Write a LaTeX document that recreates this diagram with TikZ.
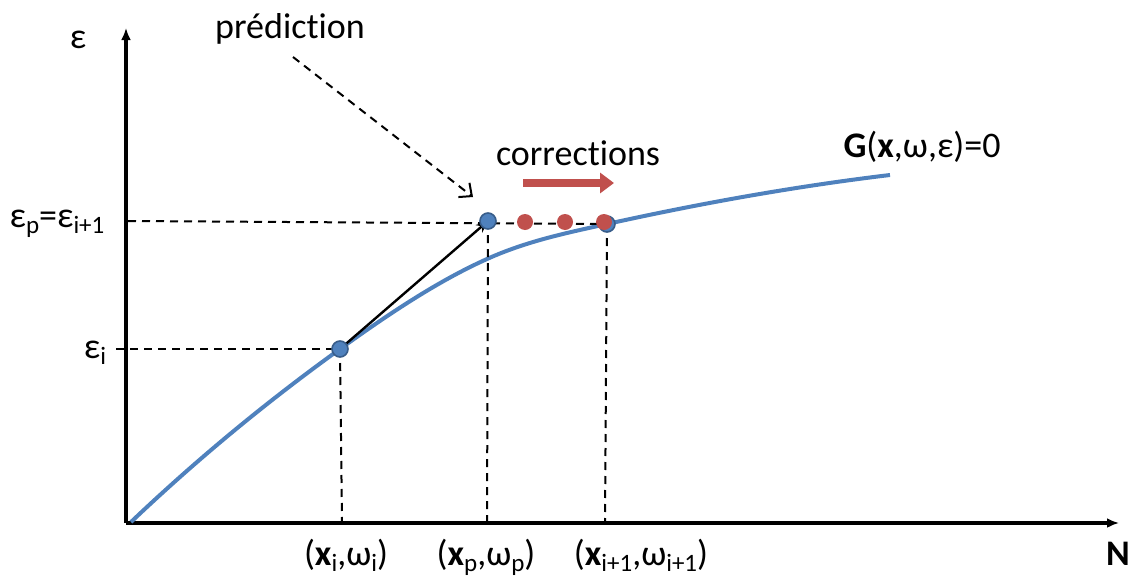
\documentclass[tikz,border=0pt]{standalone}
\usepackage{fontspec}
\setmainfont{Carlito}[Ligatures={NoCommon,NoRare}]
\usetikzlibrary{arrows.meta}
\definecolor{cblue}{HTML}{4F81BD}
\definecolor{cbluedark}{HTML}{385D8A}
\definecolor{cred}{HTML}{C0504D}
\newcommand\sbs[1]{\raisebox{-0.17em}{\fontsize{12.5}{12.5}\selectfont #1}}
\begin{document}
\begin{tikzpicture}[x=0.5pt,y=-0.5pt,
  font=\fontsize{18}{20}\selectfont,
  axis/.style={line width=2pt,-{Latex[length=6pt,width=5pt]}},
  guide/.style={line width=1pt,dash pattern=on 4pt off 3pt},
  curve/.style={line width=2pt,cblue},
  bluedot/.style={circle,fill=cblue,draw=cbluedark,line width=0.8pt,minimum size=8pt,inner sep=0pt},
  reddot/.style={circle,fill=cred,minimum size=8pt,inner sep=0pt},
  lbl/.style={anchor=base,inner sep=0pt}]
\useasboundingbox (0,0) rectangle (1129,578);
% axes
\coordinate (O) at (126,523);
\coordinate (ytop) at (126,28);
\coordinate (xend) at (1119,523);
\draw[axis] (O) -- (ytop);
\draw[axis] (O) -- (xend);
% points
\coordinate (C0) at (131,522);
\coordinate (Pi) at (340,349);
\coordinate (Cm) at (487,259);
\coordinate (Pp) at (488,221);
\coordinate (Pn) at (607,224);
\coordinate (C9) at (890,175);
% curve
\draw[curve] (C0) .. controls (200.7,455.8) and (270.3,399.2) .. (Pi)
  .. controls (389,313.7) and (438,281) .. (Cm)
  .. controls (527,241) and (567,232.8) .. (Pn)
  .. controls (701.3,203.2) and (795.7,186.3) .. (C9);
% axis foot coordinates
\coordinate (yi) at (116,349);
\coordinate (yp) at (128,221);
\coordinate (xi) at (342,523);
\coordinate (xp) at (487,523);
\coordinate (xn) at (605,523);
% guides
\draw[guide] (yi) -- (Pi);
\draw[guide] (Pi) -- (xi);
\draw[guide] (yp) -- (Pn);
\draw[guide] (Pp) -- (xp);
\draw[guide] (Pn) -- (xn);
% prediction arrow
\draw[line width=1.2pt,-{Stealth[length=6pt,width=5pt]}] (Pi) -- (Pp);
% dots
\node[bluedot] (di) at (Pi) {};
\node[bluedot] (dp) at (Pp) {};
\node[bluedot] (dn) at (Pn) {};
\node[reddot] (r1) at (525,222) {};
\node[reddot] (r2) at (565,222) {};
\node[reddot] (r3) at (604,222) {};
% labels
\node[lbl] (eps) at (78,48) {ε};
\node[lbl] (pred) at (290,38) {prédiction};
\coordinate (predA) at (293,57);
\coordinate (predB) at (473,197);
\draw[line width=1pt,dash pattern=on 4pt off 3pt,-{Straight Barb[length=5pt,width=9pt]}] (predA) -- (predB);
\node[lbl] (corr) at (578,165) {corrections};
\coordinate (ca) at (523,183);
\coordinate (cb) at (614,183);
\draw[cred,line width=4pt,-{Triangle[length=7pt,width=10pt]}] (ca) -- (cb);
\node[lbl] (G) at (922,157) {\textbf{G}(\textbf{x},ω,ε)=0};
\node[lbl] (ep) at (57,227) {ε\sbs{p}=ε\sbs{i+1}};
\node[lbl] (ei) at (95,358) {ε\sbs{i}};
\node[lbl] (bi) at (346,565) {(\textbf{x}\sbs{i},ω\sbs{i})};
\node[lbl] (bp) at (486,565) {(\textbf{x}\sbs{p},ω\sbs{p})};
\node[lbl] (bn) at (641,565) {(\textbf{x}\sbs{i+1},ω\sbs{i+1})};
\node[lbl] (N) at (1118,565) {\textbf{N}};
\end{tikzpicture}
\end{document}
